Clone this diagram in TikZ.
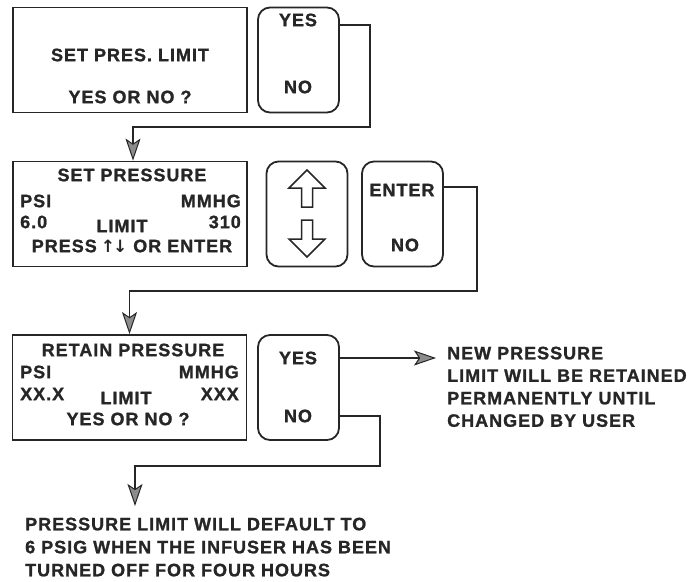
\documentclass[tikz,border=0pt]{standalone}
\usepackage{fontspec}
\setmainfont{Liberation Sans}[LetterSpace=5.5,BoldFeatures={FakeBold=1.2}]
\newfontfamily\arrowfont{DejaVu Sans}
\usepackage{tikz}
\usetikzlibrary{arrows.meta}

\begin{document}
\begin{tikzpicture}[x=1pt,y=-1pt,>=Stealth,
screen/.style={draw=black!85,line width=1.8pt,minimum width=234pt,minimum height=105pt},
key/.style={draw=black!85,line width=1.8pt,rounded corners=12pt,minimum width=81pt,minimum height=105pt},
txt/.style={text=black!85,font=\fontsize{18}{22.5}\selectfont\bfseries,inner sep=0pt},
keyarrow/.style={draw=black!85,line width=1.5pt,line join=miter},
flow/.style={draw=black!85,line width=1.8pt,-{Stealth[length=22pt,width=15pt,inset=5pt,fill=black!45,line width=1pt]}}]
\useasboundingbox (0,0) rectangle (696,581);

\node[screen] (pres) at (130,60) {};
\node[key] (yn1) at (298.5,60) {};
\node[txt] (pres1) at (130,55) {SET PRES. LIMIT};
\node[txt] (pres2) at (130,97) {YES OR NO ?};
\node[txt] (yes1) at (298,20) {YES};
\node[txt] (no1) at (298,87) {NO};

\node[screen] (setp) at (130,214) {};
\node[key] (updn) at (307,214) {};
\node[key] (ent) at (402.5,214) {};
\node[txt] (setp1) at (132,175) {SET PRESSURE};
\node[txt,anchor=west] (psi2) at (20,201) {PSI};
\node[txt,anchor=east] (mm2) at (241,201) {MMHG};
\node[txt,anchor=west] (val2) at (20,222) {6.0};
\node[txt] (lim2) at (122,226) {LIMIT};
\node[txt,anchor=east] (mval2) at (241,222) {310};
\node[txt] (press2) at (132,246) {PRESS\hspace{4pt}{\arrowfont\fontsize{17}{17}\selectfont↑\hspace{-2pt}↓}\hspace{6pt}OR ENTER};
\node[txt] (enter) at (402,190) {ENTER};
\node[txt] (no2) at (405,245) {NO};
\draw[keyarrow,shift={(updn.center)}] (0,-44) -- (18,-26) -- (5.5,-26) -- (5.5,-7) -- (-5.5,-7) -- (-5.5,-26) -- (-18,-26) -- cycle;
\draw[keyarrow,shift={(updn.center)}] (0,43) -- (18,25) -- (5.5,25) -- (5.5,6) -- (-5.5,6) -- (-5.5,25) -- (-18,25) -- cycle;

\node[screen] (ret) at (129.5,387.5) {};
\node[key] (yn3) at (298.5,387.5) {};
\node[txt] (ret1) at (133,350) {RETAIN PRESSURE};
\node[txt,anchor=west] (psi3) at (20,372) {PSI};
\node[txt,anchor=east] (mm3) at (239,372) {MMHG};
\node[txt,anchor=west] (val3) at (20,394) {XX.X};
\node[txt] (lim3) at (126,398) {LIMIT};
\node[txt,anchor=east] (mval3) at (239,394) {XXX};
\node[txt] (ret2) at (128,419) {YES OR NO ?};
\node[txt] (yes3) at (298,358) {YES};
\node[txt] (no3) at (298,416) {NO};

\node[txt,anchor=north west,align=left] (keep) at (447,346.5) {NEW PRESSURE\\LIMIT WILL BE RETAINED\\PERMANENTLY UNTIL\\CHANGED BY USER};
\node[txt,anchor=north west,align=left,font=\fontsize{18}{23}\selectfont\bfseries] (dflt) at (25,517.5) {PRESSURE LIMIT WILL DEFAULT TO\\6 PSIG WHEN THE INFUSER HAS BEEN\\TURNED OFF FOR FOUR HOURS};

\coordinate (b1) at (370,127);
\coordinate (b2) at (477,291);
\coordinate (b4) at (380,466);
\coordinate (d4) at (135,506);
\draw[flow] (yn1.east |- 0,25) -| (b1) -| (setp.north -| 133,0);
\draw[flow] (ent.east |- 0,187) -| (b2) -| (ret.north);
\draw[flow] (yn3.east |- yes3) -- ([xshift=-11pt]keep.west |- yes3);
\draw[flow] (yn3.east |- no3) -| (b4) -| (d4);
\end{tikzpicture}
\end{document}
